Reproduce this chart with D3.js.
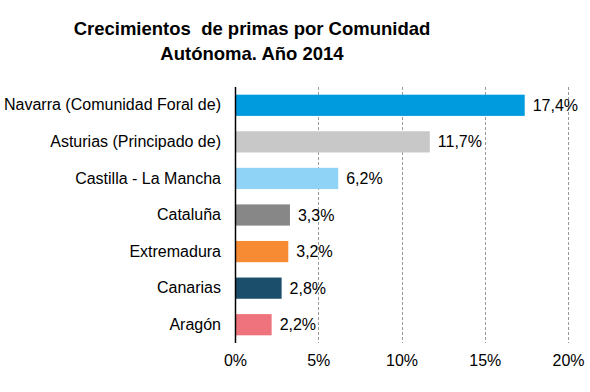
<!DOCTYPE html>
<html>
<head>
<meta charset="utf-8">
<script src="https://cdn.jsdelivr.net/npm/d3@7"></script>
<style>
  body { margin: 0; background: #fff; }
  text { font-family: "Liberation Sans", Arial, sans-serif; }
</style>
</head>
<body>
<div id="chart"></div>
<script>
const categories = [
    'Navarra (Comunidad Foral de)',
    'Asturias (Principado de)',
    'Castilla - La Mancha',
    'Cataluña',
    'Extremadura',
    'Canarias',
    'Aragón'
];
const values = [17.4, 11.7, 6.2, 3.3, 3.2, 2.8, 2.2];
const barColors = ['#009bdf', '#c8c8c8', '#8fd3f7', '#878787', '#f68b33', '#1b4e6b', '#ef737c'];
const ticks = [0, 5, 10, 15, 20];
const titleLines = ['Crecimientos  de primas por Comunidad', 'Autónoma. Año 2014'];

const width = 590;
const height = 392;
const plotLeft = 235;
const plotRight = 568;
const plotTop = 87;
const plotBottom = 343;
const labelSize = '16px';

const fmt = v => String(v.toFixed(1)).replace('.', ',') + '%';

const svg = d3.select('#chart').append('svg')
    .attr('width', width)
    .attr('height', height);

// title
svg.append('text')
    .attr('x', 252)
    .attr('y', 35)
    .attr('text-anchor', 'middle')
    .style('font-size', '18.5px')
    .style('font-weight', 'bold')
    .style('white-space', 'pre')
    .selectAll('tspan')
    .data(titleLines)
    .join('tspan')
    .attr('x', 252)
    .attr('dy', (d, i) => i === 0 ? 0 : 25)
    .text(d => d);

const x = d3.scaleLinear().domain([0, 20]).range([plotLeft, plotRight]);
const y = d3.scaleBand().domain(categories).range([plotTop, plotBottom]).paddingInner(0.42).paddingOuter(0.21);

// gridlines
svg.append('g')
    .selectAll('line')
    .data(ticks.filter(t => t > 0))
    .join('line')
    .attr('x1', d => Math.round(x(d)) + 0.5)
    .attr('x2', d => Math.round(x(d)) + 0.5)
    .attr('y1', plotTop)
    .attr('y2', plotBottom)
    .style('stroke', '#9a9a9a')
    .style('stroke-dasharray', '3,2');

// bars
svg.append('g')
    .selectAll('rect')
    .data(values)
    .join('rect')
    .attr('x', plotLeft)
    .attr('y', (d, i) => y(categories[i]))
    .attr('width', d => x(d) - plotLeft)
    .attr('height', y.bandwidth())
    .style('fill', (d, i) => barColors[i]);

// value labels
svg.append('g')
    .selectAll('text')
    .data(values)
    .join('text')
    .attr('x', d => x(d) + 8)
    .attr('y', (d, i) => y(categories[i]) + y.bandwidth() / 2)
    .attr('dy', '0.35em')
    .style('font-size', labelSize)
    .text(d => fmt(d));

// category axis
const yAxis = svg.append('g')
    .attr('transform', 'translate(' + plotLeft + ',0)')
    .call(d3.axisLeft(y).tickSize(0).tickPadding(14));
yAxis.select('.domain').remove();
yAxis.selectAll('text')
    .style('font-size', labelSize)
    .style('fill', '#000')
    .style('font-family', '"Liberation Sans", Arial, sans-serif');

svg.append('line')
    .attr('x1', plotLeft + 0.5)
    .attr('x2', plotLeft + 0.5)
    .attr('y1', plotTop)
    .attr('y2', plotBottom)
    .style('stroke', '#000')
    .style('stroke-width', 1.5);

// value axis
const xAxis = svg.append('g')
    .attr('transform', 'translate(0,' + plotBottom + ')')
    .call(d3.axisBottom(x).tickValues(ticks).tickSize(0).tickPadding(12).tickFormat(d => d + '%'));
xAxis.select('.domain').remove();
xAxis.selectAll('text')
    .style('font-size', labelSize)
    .style('fill', '#000')
    .style('font-family', '"Liberation Sans", Arial, sans-serif');
</script>
</body>
</html>
